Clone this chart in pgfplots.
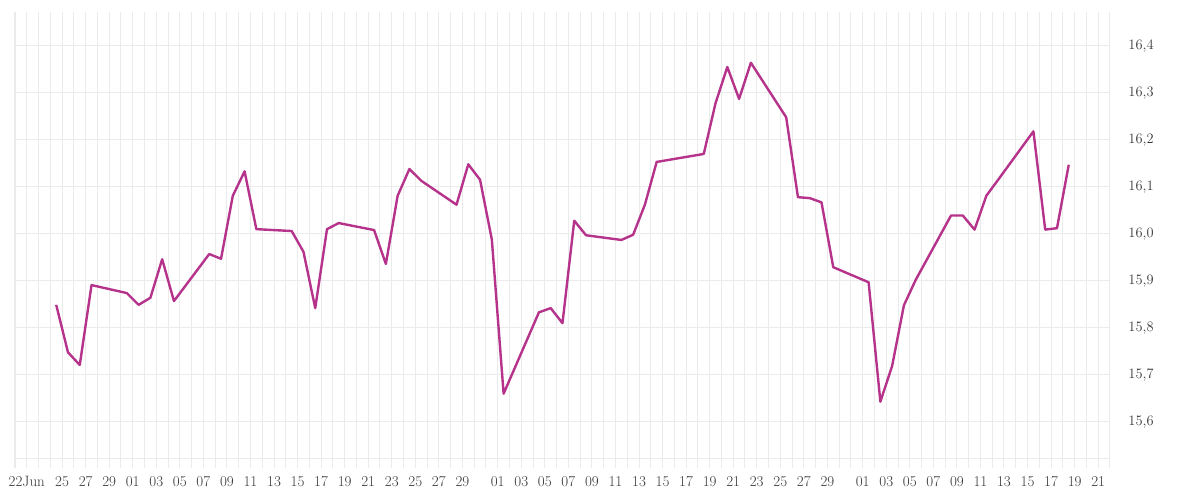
\documentclass[border=0pt]{standalone}
\usepackage{pgfplots}
\pgfplotsset{compat=1.18}
\definecolor{linec}{RGB}{181,51,138}
\definecolor{gridc}{RGB}{235,235,235}
\definecolor{textc}{RGB}{55,55,55}
\pgfplotstableread{
d v
3.5 15.849
4.5 15.748
5.5 15.721
6.5 15.891
9.5 15.874
10.5 15.849
11.5 15.864
12.5 15.946
13.5 15.857
16.5 15.957
17.5 15.947
18.5 16.081
19.5 16.133
20.5 16.010
23.5 16.006
24.5 15.962
25.5 15.842
26.5 16.010
27.5 16.023
30.5 16.008
31.5 15.936
32.5 16.081
33.5 16.138
34.5 16.113
37.5 16.062
38.5 16.148
39.5 16.115
40.5 15.988
41.5 15.660
44.5 15.833
45.5 15.842
46.5 15.810
47.5 16.028
48.5 15.997
51.5 15.987
52.5 15.998
53.5 16.062
54.5 16.153
58.5 16.170
59.5 16.278
60.5 16.355
61.5 16.287
62.5 16.364
65.5 16.248
66.5 16.078
67.5 16.076
68.5 16.067
69.5 15.929
72.5 15.897
73.5 15.643
74.5 15.719
75.5 15.848
76.5 15.902
79.5 16.039
80.5 16.039
81.5 16.009
82.5 16.081
83.5 16.115
86.5 16.218
87.5 16.009
88.5 16.012
89.5 16.147
}\datatable
\begin{document}
\begin{tikzpicture}[x=1pt,y=1pt]
\path[use as bounding box] (0,0) rectangle (1200,500);
\begin{axis}[
  at={(15pt,41pt)}, anchor=south west,
  scale only axis, width=1095pt, height=447pt,
  xmin=0, xmax=93, ymin=15.521, ymax=16.472,
  axis x line*=bottom, axis y line*=right,
  x axis line style={draw=gridc, line width=1pt},
  y axis line style={draw=none},
  xtick={1,4,6,8,10,12,14,16,18,20,22,24,26,28,30,32,34,36,38,41,43,45,47,49,51,53,55,57,59,61,63,65,67,69,72,74,76,78,80,82,84,86,88,90,92},
  xticklabels={22Jun,25,27,29,01,03,05,07,09,11,13,15,17,19,21,23,25,27,29,01,03,05,07,09,11,13,15,17,19,21,23,25,27,29,01,03,05,07,09,11,13,15,17,19,21},
  minor xtick={0,1,...,93},
  ytick={15.6,15.7,15.8,15.9,16.0,16.1,16.2,16.3,16.4},
  /pgf/number format/use comma,
  /pgf/number format/fixed,
  /pgf/number format/fixed zerofill,
  /pgf/number format/precision=1,
  grid=both,
  major grid style={draw=gridc, line width=1pt},
  minor grid style={draw=gridc, line width=1pt},
  tick align=outside,
  major tick length=9pt, minor tick length=9pt,
  x tick style={draw=gridc, line width=1pt},
  y tick style={draw=none},
  ticklabel style={font=\fontsize{15}{18}\selectfont, text=textc},
  yticklabel style={anchor=west, xshift=6pt},
  xticklabel style={yshift=-5pt},
  clip=false,
]
\addplot[linec, line width=2.4pt, line join=round] table[x=d, y=v] {\datatable};
\end{axis}
\end{tikzpicture}
\end{document}
